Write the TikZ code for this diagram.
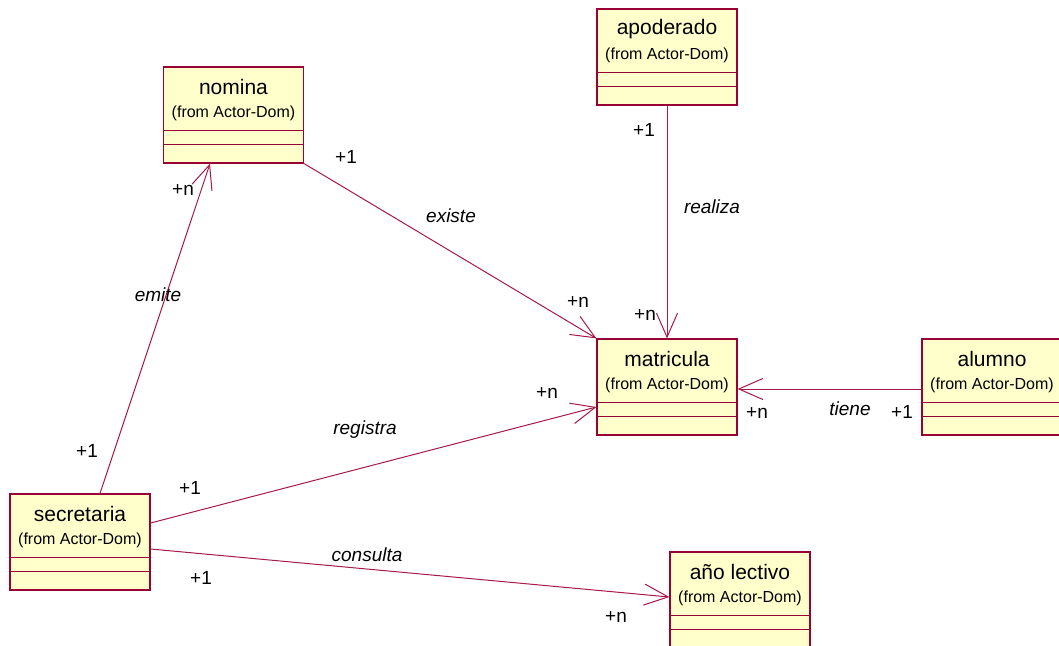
\documentclass[tikz,border=0pt]{standalone}
\usepackage{fontspec}
\setmainfont{Liberation Sans}
\usepackage{tikz}
\usetikzlibrary{positioning,arrows.meta}
\definecolor{roseborder}{RGB}{153,0,51}
\definecolor{roseline}{RGB}{165,25,75}
\definecolor{rosefill}{RGB}{255,255,204}

\begin{document}
\begin{tikzpicture}[x=1pt,y=-1pt,
  classbox/.style={draw=roseborder,fill=rosefill,line width=1.2pt,minimum width=140pt,minimum height=96pt,inner sep=0pt},
  assoc/.style={draw=roseline,line width=1pt,-{Straight Barb[length=24pt,width=21pt]}},
  role/.style={font=\fontsize{19}{22}\selectfont},
  verb/.style={font=\fontsize{19}{22}\selectfont\itshape}]
\def\umlclass#1#2#3{%
  \node[classbox] (#1) at #2 {};
  \node[font=\fontsize{21}{24}\selectfont] (#1-name) at ([yshift=-21pt]#1.north) {#3};
  \node[font=\fontsize{16}{19}\selectfont] (#1-from) at ([yshift=-47pt]#1.north) {(from Actor-Dom)};
  \draw[roseborder,line width=1pt] ([yshift=-64pt]#1.north west) -- ([yshift=-64pt]#1.north east);
  \draw[roseborder,line width=1pt] ([yshift=-78pt]#1.north west) -- ([yshift=-78pt]#1.north east);}
\useasboundingbox (0,0) rectangle (1059,645);

% classes
\umlclass{nomina}{(233.5,115)}{nomina}
\umlclass{apoderado}{(667,57)}{apoderado}
\umlclass{matricula}{(667,387)}{matricula}
\umlclass{alumno}{(992,387)}{alumno}
\umlclass{secretaria}{(80,542)}{secretaria}
\umlclass{anio}{(740,600)}{año lectivo}

% associations
\draw[assoc] (nomina.south east) -- (matricula.north west);
\draw[assoc] (apoderado.south) -- (matricula.north);
\draw[assoc] ([yshift=-2pt]alumno.west) -- ([yshift=-2pt]matricula.east);
\draw[assoc] ([xshift=20pt]secretaria.north) -- ([xshift=-23.5pt]nomina.south);
\draw[assoc] ([yshift=19pt]secretaria.east) -- ([yshift=-20pt]matricula.west);
\draw[assoc] ([yshift=-7pt]secretaria.east) -- ([yshift=3pt]anio.west);

% labels
\node[role] (r1) at (346,157) {+1};
\node[verb] (v1) at (451,216) {existe};
\node[role] (r2) at (578,302) {+n};
\node[role] (r3) at (644,130) {+1};
\node[verb] (v2) at (712,207) {realiza};
\node[role] (r4) at (645,315) {+n};
\node[verb] (v3) at (850,409) {tiene};
\node[role] (r5) at (902,412) {+1};
\node[role] (r6) at (757,413) {+n};
\node[verb] (v4) at (158,295) {emite};
\node[role] (r7) at (183,190) {+n};
\node[role] (r8) at (87,451) {+1};
\node[verb] (v5) at (365,430) {registra};
\node[role] (r9) at (190,488) {+1};
\node[role] (r10) at (547,393) {+n};
\node[verb] (v6) at (367,555) {consulta};
\node[role] (r11) at (201,578) {+1};
\node[role] (r12) at (616,617) {+n};
\end{tikzpicture}
\end{document}
